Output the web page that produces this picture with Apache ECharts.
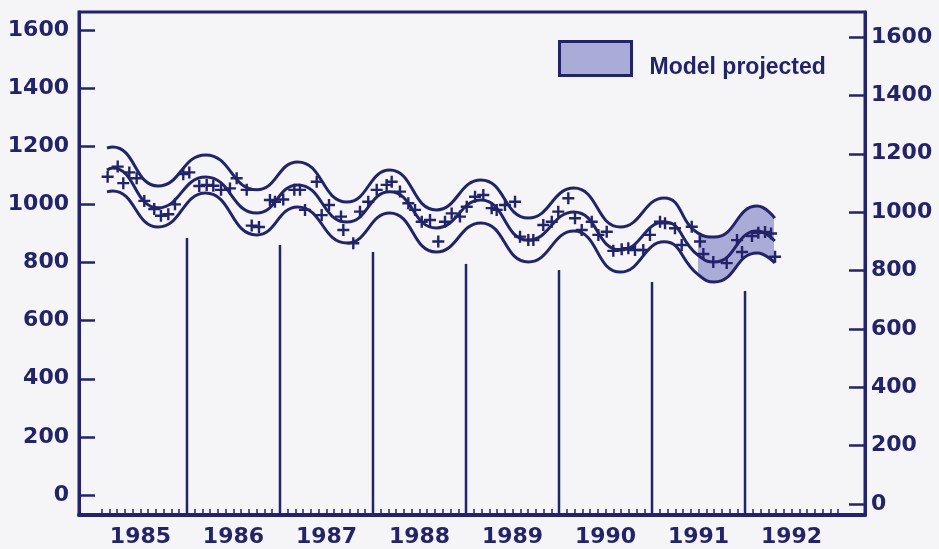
<!DOCTYPE html>
<html>
<head>
<meta charset="utf-8">
<script src="https://cdn.jsdelivr.net/npm/echarts@6/dist/echarts.min.js"></script>
<style>
  html, body { margin: 0; padding: 0; background: #f5f5f7; }
  #chart { width: 939px; height: 549px; }
</style>
</head>
<body>
<div id="chart"></div>
<script>
// smooth fitted curve + band, read at peaks / troughs
const curveYears = [1985.14, 1985.20, 1985.69, 1986.20, 1986.75, 1987.19, 1987.72, 1988.18, 1988.68,
  1989.16, 1989.67, 1990.16, 1990.66, 1991.13, 1991.49, 1991.67, 1992.13, 1992.32];
const upperValues = [1194, 1197, 1063, 1170, 1050, 1146, 1008, 1118, 981, 1084, 953, 1056, 922, 1022, 902, 888, 994, 953];
const centerValues = [1118, 1125, 988, 1094, 970, 1067, 939, 1043, 919, 1015, 877, 974, 843, 939, 826, 802, 908, 874];
const lowerValues = [1043, 1046, 922, 1039, 895, 991, 867, 970, 836, 936, 802, 908, 767, 871, 760, 733, 833, 798];
// projected part of the band
const projectedFrom = 1991.49;
const projectedTo = 1992.31;

// observed monthly values (+)
const pointYears = [1985.147, 1985.255, 1985.315, 1985.380, 1985.459, 1985.541, 1985.648, 1985.720, 1985.799, 1985.871,
  1985.960, 1986.025, 1986.132, 1986.212, 1986.283, 1986.366, 1986.462, 1986.534, 1986.642, 1986.696,
  1986.774, 1986.892, 1986.946, 1987.035, 1987.154, 1987.215, 1987.269, 1987.395, 1987.448, 1987.527,
  1987.656, 1987.681, 1987.788, 1987.860, 1987.949, 1988.040, 1988.147, 1988.201, 1988.290, 1988.380,
  1988.452, 1988.524, 1988.613, 1988.702, 1988.774, 1988.846, 1988.935, 1989.008, 1989.097, 1989.186,
  1989.276, 1989.330, 1989.419, 1989.527, 1989.581, 1989.670, 1989.724, 1989.831, 1989.922, 1989.992,
  1990.100, 1990.172, 1990.244, 1990.352, 1990.423, 1990.513, 1990.584, 1990.674, 1990.745, 1990.817,
  1990.906, 1990.978, 1991.086, 1991.140, 1991.247, 1991.319, 1991.427, 1991.516, 1991.552, 1991.659,
  1991.803, 1991.914, 1991.968, 1992.075, 1992.143, 1992.215, 1992.280, 1992.323];
const pointValues = [1095, 1130, 1073, 1110, 1090, 1012, 984, 961, 966, 1000,
  1104, 1110, 1063, 1067, 1064, 1050, 1055, 1090, 1050, 927,
  922, 1015, 1009, 1017, 1050, 1050, 981, 1078, 963, 998,
  958, 912, 866, 975, 1009, 1050, 1067, 1078, 1044, 1004,
  981, 940, 946, 872, 940, 969, 958, 992, 1026, 1032,
  987, 981, 998, 1009, 889, 877, 877, 929, 940, 975,
  1021, 952, 912, 940, 895, 906, 840, 846, 849, 843,
  843, 895, 940, 935, 918, 860, 923, 872, 829, 802,
  798, 877, 836, 891, 902, 905, 900, 820];

// year separator lines
const yearLineYears = [1986, 1987, 1988, 1989, 1990, 1991, 1992];
const yearLineTops = [884, 860, 836, 795, 774, 733, 702];

const yearLabelPos = [1985.5, 1986.5, 1987.5, 1988.5, 1989.5, 1990.5, 1991.5, 1992.5];
const yTickValues = [0, 200, 400, 600, 800, 1000, 1200, 1400, 1600];

const INK = '#23236a';
const SHADE = '#a9acd6';
const BG = '#f5f5f7';
const X_MIN = 1984.839, X_MAX = 1993.29;
const YL_MIN = -68.8, YL_MAX = 1661.9;
const YR_MIN = -37.7, YR_MAX = 1685.7;

const monthTicks = [];
for (let k = 1; k <= 96; k++) monthTicks.push(1985 + k / 12);

const pairs = (xs, ys) => xs.map((x, i) => [x, ys[i]]);

const labelFont = { color: INK, fontFamily: 'DejaVu Sans', fontWeight: 'bold', fontSize: 22 };
const SMOOTH = 0.5;

function curve(values) {
  return {
    type: 'line', data: pairs(curveYears, values), smooth: SMOOTH, symbol: 'none',
    lineStyle: { color: INK, width: 3 }, z: 3, silent: true
  };
}

function yAxis(pos, min, max, margin) {
  return {
    type: 'value', position: pos, min: min, max: max,
    axisLine: { show: true, onZero: false, lineStyle: { color: INK, width: 3 } },
    axisTick: { show: true, inside: true, length: 16, customValues: yTickValues, lineStyle: { color: INK, width: 2.5 } },
    axisLabel: Object.assign({ customValues: yTickValues, margin: margin, formatter: v => String(v) }, labelFont),
    splitLine: { show: false }
  };
}

const chart = echarts.init(document.getElementById('chart'));
chart.setOption({
  backgroundColor: BG,
  animation: false,
  grid: { left: 79, right: 74, top: 12, bottom: 34, show: true, borderColor: INK, borderWidth: 3, backgroundColor: 'transparent' },
  legend: {
    data: ['Model projected'], left: 553, top: 35, icon: 'rect', itemWidth: 72, itemHeight: 34,
    itemStyle: { color: SHADE, borderColor: INK, borderWidth: 3 },
    formatter: name => '{t|' + name + '}',
    textStyle: {
      color: INK,
      rich: { t: { color: INK, fontFamily: 'Liberation Sans', fontWeight: 'bold', fontSize: 23, padding: [18, 0, 0, 13] } }
    }
  },
  visualMap: {
    type: 'piecewise', show: false, dimension: 0, seriesIndex: 0,
    pieces: [{ gte: projectedFrom, lte: projectedTo, color: SHADE }],
    outOfRange: { color: 'rgba(245,245,247,0)' }
  },
  xAxis: {
    type: 'value', min: X_MIN, max: X_MAX, z: 5,
    axisLine: { onZero: false, lineStyle: { color: INK, width: 4 } },
    axisTick: { inside: true, length: 6, customValues: monthTicks, lineStyle: { color: INK, width: 1.5 } },
    axisLabel: Object.assign({ customValues: yearLabelPos, margin: 11, formatter: v => String(Math.floor(v)) }, labelFont),
    splitLine: { show: false }
  },
  yAxis: [yAxis('left', YL_MIN, YL_MAX, 10), yAxis('right', YR_MIN, YR_MAX, 6)],
  series: [
    {
      // shaded band: area under the upper curve, coloured only in the projected years
      name: 'Model projected', type: 'line', data: pairs(curveYears, upperValues), smooth: SMOOTH, symbol: 'none',
      lineStyle: { width: 0 }, areaStyle: { opacity: 1, origin: 'start' }, z: 1, silent: true
    },
    {
      // masks everything below the lower curve
      type: 'line', data: pairs(curveYears, lowerValues), smooth: SMOOTH, symbol: 'none',
      lineStyle: { width: 0 }, areaStyle: { color: BG, opacity: 1, origin: 'start' }, z: 2, silent: true
    },
    curve(upperValues),
    curve(centerValues),
    curve(lowerValues),
    {
      type: 'scatter', data: pairs(pointYears, pointValues),
      symbol: 'path://M0,6L12,6M6,0L6,12', symbolSize: 12,
      itemStyle: { color: 'rgba(0,0,0,0)', borderColor: INK, borderWidth: 2.4, opacity: 1 }, z: 4, silent: true
    },
    {
      type: 'custom', data: pairs(yearLineYears, yearLineTops), z: 4, silent: true,
      renderItem: (params, api) => {
        const top = api.coord([api.value(0), api.value(1)]);
        const bot = api.coord([api.value(0), YL_MIN]);
        return { type: 'line', shape: { x1: top[0], y1: top[1], x2: bot[0], y2: bot[1] },
          style: { stroke: INK, lineWidth: 2.5 } };
      }
    }
  ]
});
</script>
</body>
</html>
